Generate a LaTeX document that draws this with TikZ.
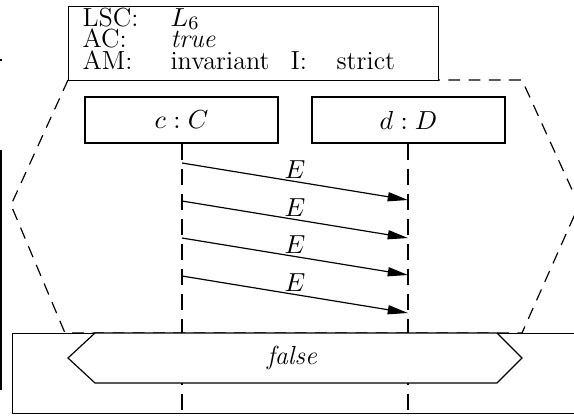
\documentclass[tikz,border=0pt]{standalone}
\usetikzlibrary{arrows.meta}
\begin{document}
\begin{tikzpicture}[x=0.42pt,y=-0.42pt, line width=0.5pt,
  every node/.style={font=\fontsize{11}{13}\selectfont},
  hexdash/.style={dash pattern=on 5pt off 3.5pt},
  lifedash/.style={dash pattern=on 7pt off 3.5pt},
  inst/.style={draw, minimum width=193*0.42pt, minimum height=46*0.42pt, inner sep=0pt},
  msg/.style={-{Triangle[length=8.5pt,width=3.8pt]}},
  lbl/.style={inner sep=0pt, anchor=base west},
  elbl/.style={inner sep=1pt, above, pos=0.5}]
\useasboundingbox (0,0) rectangle (574,416);
\clip (0,0) rectangle (574,416);
% outer fragments
\draw[line width=0.7pt] (1,150) coordinate (fa) -- (1,390) coordinate (fb);
\draw (0,60) coordinate (ta) -- (2,60) coordinate (tb);
% dashed hexagon (subchart)
\draw[hexdash] (68,80) -- (11,205) -- (65,333) -- (522,333) -- (579,205) -- (522,80) -- cycle;
% bottom condition box
\node (cond) [draw, anchor=north west, minimum width=600*0.42pt, minimum height=80*0.42pt, inner sep=0pt] at (12,333) {};
% instances
\node (cC) [inst] at (181.5,120) {$c:C$};
\node (dD) [inst] at (408.5,120) {$d:D$};
\coordinate (cEnd) at (182,413);
\coordinate (dEnd) at (408,413);
\draw[lifedash] (cC.south -| cEnd) -- (cEnd);
\draw[lifedash] (dD.south -| dEnd) -- (dEnd);
% condition hexagon
\draw[fill=white] (68,358) -- (95,333) -- (497,333) -- (522,358) -- (497,383) -- (95,383) -- cycle;
\node (fl) at (292,358) {\textit{false}};
% messages
\coordinate (c1) at (182,163); \coordinate (d1) at (408,200);
\coordinate (c2) at (182,201); \coordinate (d2) at (408,238);
\coordinate (c3) at (182,238); \coordinate (d3) at (408,275);
\coordinate (c4) at (182,276); \coordinate (d4) at (408,313);
\draw[msg] (c1) -- node[elbl] (e1) {$E$} (d1);
\draw[msg] (c2) -- node[elbl] (e2) {$E$} (d2);
\draw[msg] (c3) -- node[elbl] (e3) {$E$} (d3);
\draw[msg] (c4) -- node[elbl] (e4) {$E$} (d4);
% header
\node (hdr) [draw, fill=white, anchor=north west, minimum width=370*0.42pt, minimum height=74*0.42pt, inner sep=0pt] at (68,6) {};
\node (h1a) [lbl] at (82,26) {LSC:};
\node (h1b) [lbl] at (170,26) {$L_6$};
\node (h2a) [lbl] at (82,47) {AC:};
\node (h2b) [lbl] at (170,47) {\textit{true}};
\node (h3a) [lbl] at (82,69) {AM:};
\node (h3b) [lbl] at (170,69) {invariant};
\node (h3c) [lbl] at (290,69) {I:};
\node (h3d) [lbl] at (336,69) {strict};
\end{tikzpicture}
\end{document}
